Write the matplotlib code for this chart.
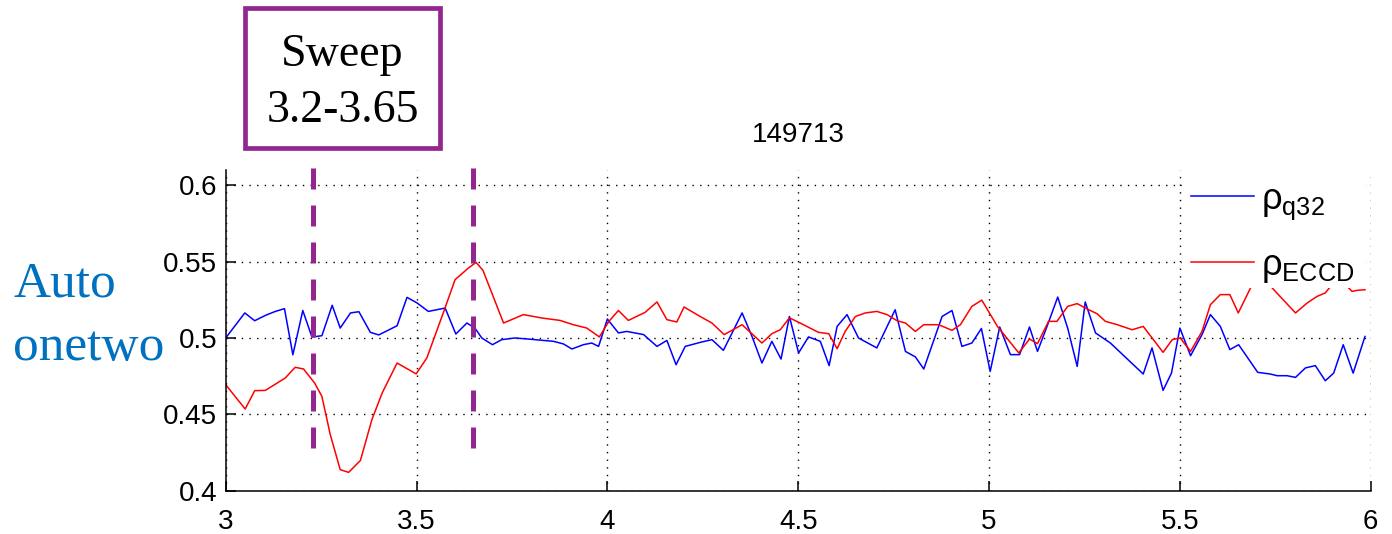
import matplotlib
matplotlib.use("Agg")
import matplotlib.pyplot as plt
from matplotlib.patches import Rectangle

# ---------------- data ----------------
q32_t = [3.000, 3.050, 3.076, 3.104, 3.130, 3.154, 3.176, 3.202, 3.226, 3.252,
         3.279, 3.300, 3.327, 3.349, 3.379, 3.401, 3.449, 3.475, 3.501, 3.531,
         3.575, 3.603, 3.632, 3.653, 3.671, 3.699, 3.723, 3.758, 3.793, 3.859,
         3.885, 3.907, 3.937, 3.959, 3.977, 4.000, 4.029, 4.051, 4.095, 4.130,
         4.156, 4.180, 4.204, 4.243, 4.274, 4.304, 4.353, 4.379, 4.405, 4.431,
         4.455, 4.477, 4.501, 4.527, 4.558, 4.581, 4.602, 4.628, 4.658, 4.706,
         4.754, 4.781, 4.807, 4.829, 4.877, 4.903, 4.929, 4.955, 4.980, 5.003,
         5.028, 5.056, 5.080, 5.106, 5.127, 5.152, 5.180, 5.206, 5.231, 5.252,
         5.279, 5.318, 5.404, 5.427, 5.456, 5.478, 5.500, 5.528, 5.558, 5.580,
         5.606, 5.631, 5.654, 5.704, 5.737, 5.755, 5.781, 5.803, 5.829, 5.855,
         5.881, 5.903, 5.928, 5.954, 5.985]
q32_rho = [0.500, 0.5164, 0.5113, 0.5148, 0.5174, 0.5192, 0.489, 0.518, 0.5006, 0.5015,
           0.5214, 0.5065, 0.5164, 0.5172, 0.5037, 0.502, 0.508, 0.5266, 0.523, 0.5174,
           0.5196, 0.5026, 0.5098, 0.5065, 0.500, 0.4956, 0.4989, 0.500, 0.4993, 0.4978,
           0.4961, 0.4928, 0.4956, 0.4967, 0.4945, 0.5124, 0.5033, 0.5043, 0.5022, 0.4945,
           0.4984, 0.4825, 0.4945, 0.4971, 0.4989, 0.4919, 0.5164, 0.501, 0.4836, 0.4978,
           0.4862, 0.5141, 0.4902, 0.5007, 0.4978, 0.4819, 0.5076, 0.5153, 0.500, 0.4935,
           0.5185, 0.4912, 0.4876, 0.4797, 0.5141, 0.518, 0.4945, 0.4967, 0.5062, 0.4781,
           0.5072, 0.4891, 0.4891, 0.5072, 0.4912, 0.5076, 0.5268, 0.5065, 0.4814, 0.5236,
           0.5033, 0.4967, 0.4764, 0.4935, 0.4657, 0.477, 0.5065, 0.4884, 0.5022, 0.5153,
           0.5076, 0.4924, 0.4956, 0.4775, 0.4764, 0.4753, 0.4753, 0.4742, 0.4804, 0.4819,
           0.472, 0.477, 0.4956, 0.477, 0.501]

eccd_t = [3.000, 3.051, 3.076, 3.104, 3.156, 3.182, 3.204, 3.233, 3.252, 3.274,
          3.300, 3.322, 3.353, 3.383, 3.410, 3.449, 3.499, 3.527, 3.570, 3.601,
          3.636, 3.656, 3.674, 3.728, 3.780, 3.828, 3.876, 3.911, 3.946, 3.979,
          4.004, 4.029, 4.055, 4.099, 4.130, 4.156, 4.182, 4.201, 4.243, 4.274,
          4.306, 4.353, 4.405, 4.431, 4.453, 4.477, 4.505, 4.553, 4.580, 4.602,
          4.623, 4.650, 4.676, 4.706, 4.733, 4.759, 4.781, 4.807, 4.829, 4.868,
          4.903, 4.925, 4.955, 4.981, 5.022, 5.078, 5.106, 5.127, 5.156, 5.178,
          5.206, 5.231, 5.257, 5.283, 5.305, 5.336, 5.375, 5.404, 5.456, 5.480,
          5.501, 5.528, 5.558, 5.580, 5.606, 5.631, 5.653, 5.685, 5.710, 5.742,
          5.803, 5.834, 5.860, 5.881, 5.915, 5.951, 5.964, 5.985]
eccd_rho = [0.4694, 0.4535, 0.4655, 0.4657, 0.4738, 0.4808, 0.4797, 0.4705, 0.4618, 0.4367,
            0.4138, 0.412, 0.4198, 0.4465, 0.464, 0.4836, 0.4765, 0.4869, 0.5164, 0.5382,
            0.5458, 0.5495, 0.5443, 0.5098, 0.5153, 0.5131, 0.5115, 0.5087, 0.5065, 0.5007,
            0.5109, 0.518, 0.5115, 0.5168, 0.5236, 0.512, 0.5105, 0.5203, 0.5141, 0.5098,
            0.5022, 0.5087, 0.4967, 0.5028, 0.5054, 0.5132, 0.5098, 0.5037, 0.5028, 0.493,
            0.5043, 0.5141, 0.5164, 0.5174, 0.5153, 0.5113, 0.5098, 0.5043, 0.5087, 0.5087,
            0.505, 0.5087, 0.5207, 0.5248, 0.5076, 0.4902, 0.4993, 0.4963, 0.5109, 0.5109,
            0.5207, 0.5225, 0.519, 0.5159, 0.5109, 0.5087, 0.5054, 0.5076, 0.4906, 0.4989,
            0.500, 0.4912, 0.5043, 0.5218, 0.5284, 0.5284, 0.5164, 0.5327, 0.545, 0.5327,
            0.5164, 0.523, 0.5273, 0.5295, 0.540, 0.5305, 0.5312, 0.5316]

sweep_lines = [3.228, 3.648]
sweep_span = [0.4265, 0.6115]
x_ticks = [3, 3.5, 4, 4.5, 5, 5.5, 6]
x_ticklabels = ["3", "3.5", "4", "4.5", "5", "5.5", "6"]
y_ticks = [0.4, 0.45, 0.5, 0.55, 0.6]
y_ticklabels = ["0.4", "0.45", "0.5", "0.55", "0.6"]
labels = ["ρ$_{\\mathrm{q32}}$", "ρ$_{\\mathrm{ECCD}}$"]
title = "149713"

# ---------------- style ----------------
plt.rcParams["font.family"] = ["Liberation Sans", "DejaVu Sans"]
plt.rcParams["mathtext.fontset"] = "custom"
plt.rcParams["mathtext.rm"] = "Liberation Sans"
plt.rcParams["mathtext.it"] = "Liberation Sans:italic"

W, H = 1392, 534
fig = plt.figure(figsize=(W / 100, H / 100), dpi=100)
ax_l, ax_r, ax_b, ax_t = 225.7, 1370.7, 490.7, 170.0
ax = fig.add_axes([ax_l / W, 1 - ax_b / H, (ax_r - ax_l) / W, (ax_b - ax_t) / H])

purple = "#92278f"
ax.plot(q32_t, q32_rho, color="#0000ff", lw=1.1, label=labels[0], zorder=2)
ax.plot(eccd_t, eccd_rho, color="#ff0000", lw=1.1, label=labels[1], zorder=2)

for xv in sweep_lines:
    ax.plot([xv, xv], [sweep_span[1], sweep_span[0]], color=purple, lw=3.6,
            dashes=(4.2, 3.2), clip_on=False, zorder=4, solid_capstyle="butt",
            dash_capstyle="butt")

ax.set_xlim(3, 6)
ax.set_ylim(0.4, 0.61)
ax.set_xticks(x_ticks)
ax.set_xticklabels(x_ticklabels)
ax.set_yticks(y_ticks)
ax.set_yticklabels(y_ticklabels)
ax.tick_params(axis="both", direction="in", length=7, width=1.1, labelsize=20,
               colors="black")
ax.tick_params(axis="x", pad=13)
ax.tick_params(axis="y", pad=6)
ax.spines["top"].set_visible(False)
ax.spines["right"].set_visible(False)
for s in ("left", "bottom"):
    ax.spines[s].set_linewidth(1.1)
ax.set_axisbelow(True)
ax.grid(True, color="black", lw=1.0, linestyle=(0, (1, 4.5)))
ax.set_title(title, fontsize=20, pad=20)

# white legend area covering the lines
ax.add_patch(Rectangle((0.835, 0.632), 0.161, 0.368, transform=ax.transAxes,
                       facecolor="white", edgecolor="none", zorder=3))
leg = ax.legend(loc="upper left", bbox_to_anchor=(0.843, 0.963), frameon=False,
                fontsize=26, handlelength=1.75, handletextpad=0.2,
                labelspacing=0.72, borderpad=0, borderaxespad=0)
leg.set_zorder(6)

# annotation box
fig.add_artist(Rectangle((245 / W, 1 - 148.2 / H), (440 - 245) / W, (148.2 - 8) / H,
                         transform=fig.transFigure, facecolor="none",
                         edgecolor=purple, lw=3.4))
fig.text(342.5 / W, 1 - 66 / H, "Sweep", family="Liberation Serif", fontsize=33,
         ha="center", va="baseline")
fig.text(342.5 / W, 1 - 121.7 / H, "3.2-3.65", family="Liberation Serif", fontsize=33,
         ha="center", va="baseline")

fig.text(13 / W, 1 - 296.7 / H, "Auto", family="Liberation Serif", fontsize=37,
         color="#0070c0", ha="left", va="baseline")
fig.text(13 / W, 1 - 360 / H, "onetwo", family="Liberation Serif", fontsize=37,
         color="#0070c0", ha="left", va="baseline")

fig.savefig("out.png", dpi=100)
